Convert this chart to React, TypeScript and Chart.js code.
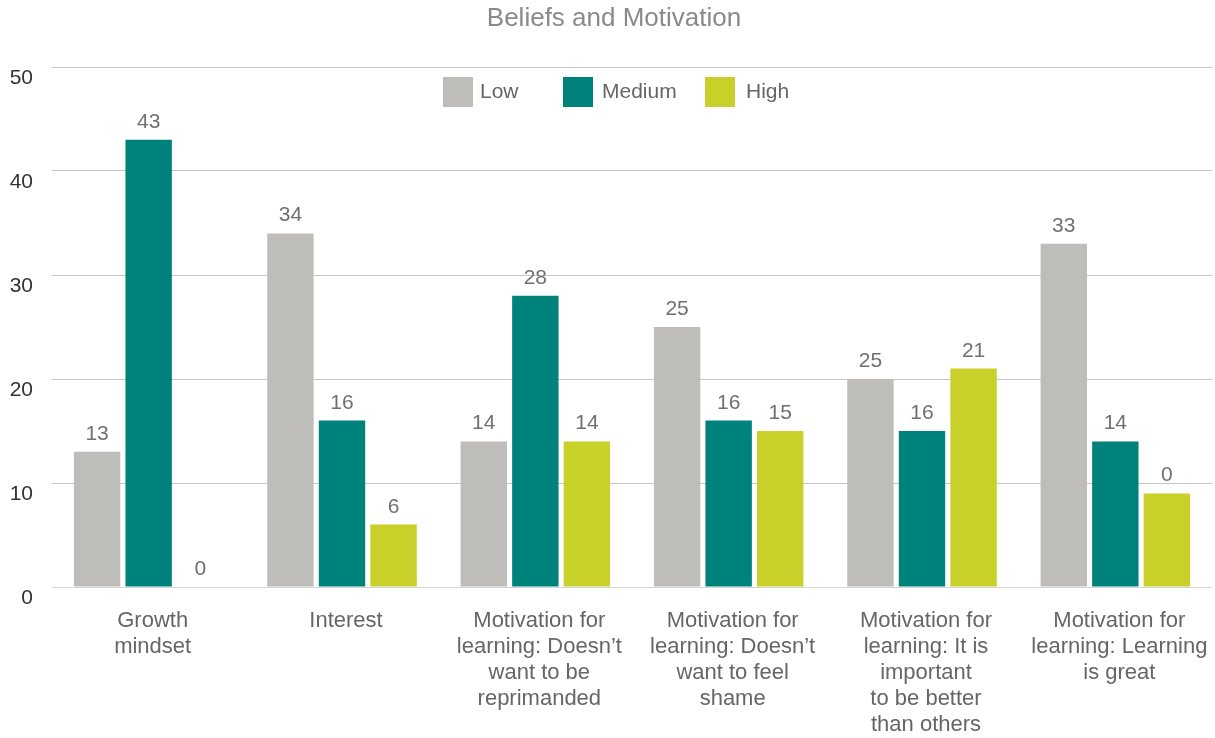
import React, { useEffect, useRef } from 'react';
import { Chart, registerables } from 'chart.js';

Chart.register(...registerables);

const chartTitle = 'Beliefs and Motivation';
const categories: string[][] = [
  ['Growth', 'mindset'],
  ['Interest'],
  ['Motivation for', 'learning: Doesn\u2019t', 'want to be', 'reprimanded'],
  ['Motivation for', 'learning: Doesn\u2019t', 'want to feel', 'shame'],
  ['Motivation for', 'learning: It is', 'important', 'to be better', 'than others'],
  ['Motivation for', 'learning: Learning', 'is great'],
];
const seriesNames = ['Low', 'Medium', 'High'];
const lowValues = [13, 34, 14, 25, 20, 33];
const mediumValues = [43, 16, 28, 16, 15, 14];
const highValues = [0, 6, 14, 15, 21, 9];
const lowLabels = ['13', '34', '14', '25', '25', '33'];
const mediumLabels = ['43', '16', '28', '16', '16', '14'];
const highLabels = ['0', '6', '14', '15', '21', '0'];
const yMin = 0;
const yMax = 50;
const yStep = 10;

const COLORS = ['#bfbdba', '#00827c', '#c8d02a'];
const FONT = '"Liberation Sans", Arial, Helvetica, sans-serif';

const barLabelsPlugin = {
  id: 'barLabels',
  afterDatasetsDraw(chart: any) {
    const ctx = chart.ctx;
    const all = [lowLabels, mediumLabels, highLabels];
    ctx.save();
    ctx.font = `21px ${FONT}`;
    ctx.fillStyle = '#707070';
    ctx.textAlign = 'center';
    ctx.textBaseline = 'alphabetic';
    chart.data.datasets.forEach((_ds: any, di: number) => {
      const meta = chart.getDatasetMeta(di);
      meta.data.forEach((bar: any, i: number) => {
        ctx.fillText(all[di][i], bar.x, bar.y - 12);
      });
    });
    ctx.restore();
  },
};

const titlePlugin = {
  id: 'topTitle',
  afterDraw(chart: any) {
    const ctx = chart.ctx;
    ctx.save();
    ctx.font = `26px ${FONT}`;
    ctx.fillStyle = '#8a8a8a';
    ctx.textAlign = 'center';
    ctx.textBaseline = 'middle';
    ctx.fillText(chartTitle, 614, 19);
    ctx.restore();
  },
};

const legendBoxX = [443, 563, 705];
const legendTextX = [480, 602, 746];
const legendPlugin = {
  id: 'innerLegend',
  afterDraw(chart: any) {
    const ctx = chart.ctx;
    ctx.save();
    ctx.font = `21px ${FONT}`;
    ctx.textAlign = 'left';
    ctx.textBaseline = 'middle';
    chart.data.datasets.forEach((ds: any, i: number) => {
      ctx.fillStyle = ds.backgroundColor;
      ctx.fillRect(legendBoxX[i], 77, 30, 30);
      ctx.fillStyle = '#666666';
      ctx.fillText(ds.label, legendTextX[i], 92);
    });
    ctx.restore();
  },
};

export default function App() {
  const ref = useRef<HTMLCanvasElement | null>(null);

  useEffect(() => {
    document.body.style.margin = '0';
    if (!ref.current) return;
    const chart = new Chart(ref.current, {
      type: 'bar',
      data: {
        labels: categories,
        datasets: [
          { label: seriesNames[0], data: lowValues, backgroundColor: COLORS[0] },
          { label: seriesNames[1], data: mediumValues, backgroundColor: COLORS[1] },
          { label: seriesNames[2], data: highValues, backgroundColor: COLORS[2] },
        ],
      },
      options: {
        responsive: false,
        animation: false,
        layout: { padding: { left: 0, right: 3, top: 67, bottom: 0 } },
        datasets: {
          bar: { categoryPercentage: 0.8, barPercentage: 0.9 },
        },
        plugins: {
          legend: { display: false },
          tooltip: { enabled: false },
          title: { display: false },
        },
        scales: {
          x: {
            grid: { display: false, drawTicks: false },
            border: { display: false },
            ticks: {
              color: '#666666',
              font: { family: FONT, size: 22, lineHeight: '26px' },
              padding: 21,
              labelOffset: 4,
              maxRotation: 0,
              autoSkip: false,
            },
            afterFit(scale: any) {
              scale.height = 151;
              scale.paddingLeft = 0;
              scale.paddingRight = 0;
            },
          },
          y: {
            min: yMin,
            max: yMax,
            grid: {
              drawTicks: false,
              color: (c: any) => (c.tick && c.tick.value === 0 ? '#d6d6d2' : '#c6c6c6'),
              lineWidth: 1,
            },
            border: { display: false },
            ticks: {
              stepSize: yStep,
              color: '#333333',
              font: { family: FONT, size: 21 },
              padding: 19,
              labelOffset: 11,
            },
            afterFit(scale: any) {
              scale.width = 52;
              scale.paddingTop = 0;
              scale.paddingBottom = 0;
            },
          },
        },
      },
      plugins: [barLabelsPlugin, titlePlugin, legendPlugin],
    });
    return () => chart.destroy();
  }, []);

  return (
    <div style={{ width: 1215, height: 738 }}>
      <canvas ref={ref} width={1215} height={738} style={{ display: 'block' }} />
    </div>
  );
}
